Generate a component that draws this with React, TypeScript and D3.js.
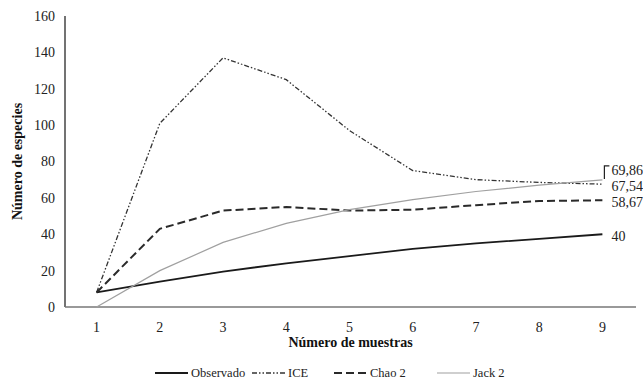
import React from 'react';
import * as d3 from 'd3';

// categorías del eje x
const muestras = ['1', '2', '3', '4', '5', '6', '7', '8', '9'];

// series
const observado = [8, 14, 19.5, 24, 28, 32, 35, 37.5, 40];
const ice = [8, 101, 137, 125, 97, 75, 70, 68.5, 67.54];
const chao2 = [8, 43, 53, 55, 53, 53.5, 56, 58.3, 58.67];
const jack2 = [0, 20, 35.5, 46, 53.5, 59, 63.5, 67, 69.86];

const yTicks = [0, 20, 40, 60, 80, 100, 120, 140, 160];

const series = [
  { name: 'Observado', values: observado, label: '40', stroke: '#1a1a1a', width: 1.8, dash: '' },
  { name: 'ICE', values: ice, label: '67,54', stroke: '#333', width: 1.3, dash: '5,2,1.5,2,1.5,2' },
  { name: 'Chao 2', values: chao2, label: '58,67', stroke: '#2a2a2a', width: 2, dash: '8,4' },
  { name: 'Jack 2', values: jack2, label: '69,86', stroke: '#a0a0a0', width: 1.2, dash: '' },
];

const W = 643;
const H = 380;
const margin = { top: 16, right: 8, bottom: 73, left: 65 };
const font = 'Liberation Serif, DejaVu Serif, Noto Serif, Times New Roman, serif';

export default function App() {
  const x = d3.scaleBand().domain(muestras).range([margin.left, 634]);
  const y = d3.scaleLinear().domain([0, 160]).range([H - margin.bottom, margin.top]);
  const cx = (i: number) => (x(muestras[i]) as number) + x.bandwidth() / 2;

  const line = d3.line<number>().x((_, i) => cx(i)).y((d) => y(d));

  const last = muestras.length - 1;
  const endX = cx(last);
  const labelX = endX + 9;

  // posiciones de las etiquetas finales (69,86 desplazada hacia arriba con corchete)
  const labelY = (s: typeof series[number]) =>
    s.name === 'Jack 2' ? y(s.values[last]) - 10 : y(s.values[last]) + 2;

  // leyenda
  const legendY = 373;
  const legendItems = [
    { s: series[0], x0: 155 },
    { s: series[1], x0: 252 },
    { s: series[2], x0: 334 },
    { s: series[3], x0: 437 },
  ];

  return (
    <svg width={W} height={H} style={{ position: 'absolute', left: 0, top: 0, background: '#fff' }}>
      {/* eje y */}
      <line x1={margin.left} x2={margin.left} y1={margin.top} y2={y(0)} stroke="#444" strokeWidth={1.5} />
      {/* eje x */}
      <line x1={margin.left} x2={636} y1={y(0)} y2={y(0)} stroke="#777" strokeWidth={1.5} />

      {yTicks.map((t) => (
        <text key={t} x={55} y={y(t)} dy="0.35em" textAnchor="end" fontFamily={font} fontSize={14} fill="#222">
          {t}
        </text>
      ))}
      {muestras.map((m, i) => (
        <text key={m} x={cx(i)} y={y(0) + 20} dy="0.35em" textAnchor="middle" fontFamily={font} fontSize={14} fill="#222">
          {m}
        </text>
      ))}

      <text
        transform={`translate(17,${(margin.top + y(0)) / 2}) rotate(-90)`}
        textAnchor="middle"
        dy="0.35em"
        fontFamily={font}
        fontSize={14}
        fontWeight="bold"
        fill="#111"
      >
        Número de especies
      </text>
      <text x={(margin.left + 636) / 2} y={342} textAnchor="middle" dy="0.35em" fontFamily={font} fontSize={14} fontWeight="bold" fill="#111">
        Número de muestras
      </text>

      {series.map((s) => (
        <path key={s.name} d={line(s.values) as string} fill="none" stroke={s.stroke} strokeWidth={s.width} strokeDasharray={s.dash} />
      ))}

      {/* corchete de la etiqueta de Jack 2 */}
      <path
        d={`M${endX + 2},${y(jack2[last]) - 1}V${labelY(series[3]) - 4}H${endX + 7}`}
        fill="none"
        stroke="#222"
        strokeWidth={1.2}
      />

      {series.map((s) => (
        <text key={s.name} x={labelX} y={labelY(s)} dy="0.35em" fontFamily={font} fontSize={14} fill="#222">
          {s.label}
        </text>
      ))}

      {legendItems.map(({ s, x0 }) => (
        <g key={s.name}>
          <line x1={x0} x2={x0 + 33} y1={legendY} y2={legendY} stroke={s.stroke} strokeWidth={s.width} strokeDasharray={s.dash} />
          <text x={x0 + 36} y={legendY} dy="0.35em" fontFamily={font} fontSize={12.5} fill="#222">
            {s.name}
          </text>
        </g>
      ))}
    </svg>
  );
}
